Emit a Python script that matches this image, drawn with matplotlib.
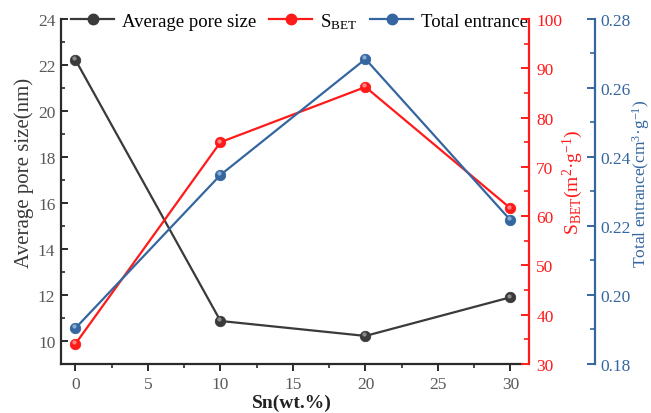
import matplotlib
matplotlib.use("Agg")
import matplotlib.pyplot as plt
from matplotlib.ticker import MultipleLocator, FormatStrFormatter
from matplotlib.transforms import offset_copy
from matplotlib.lines import Line2D

plt.rcParams['font.family'] = ['Liberation Serif', 'DejaVu Serif']
plt.rcParams['mathtext.fontset'] = 'custom'
plt.rcParams['mathtext.rm'] = 'Liberation Serif'
plt.rcParams['mathtext.it'] = 'Liberation Serif:italic'

sn = [0, 10, 20, 30]
pore_size = [22.22, 10.87, 10.22, 11.9]
s_bet = [34.1, 75.0, 86.2, 61.6]
total_entrance = [0.1904, 0.2348, 0.2684, 0.2217]

x_ticks = [0, 5, 10, 15, 20, 25, 30]

c_black = '#3a3a3a'
c_red = '#ff1a1a'
c_blue = '#3566a0'
c_grey_txt = '#595959'

fig = plt.figure(figsize=(6.51, 4.14), dpi=100)
ax = fig.add_axes([0.0937, 0.1184, 0.7082, 0.8333])
ax_r = ax.twinx()
ax_b = ax.twinx()


def sphere_line(a, x, y, color, light):
    a.plot(x, y, '-', color=color, lw=1.6, marker='o', ms=7.5,
           mfc=color, mec=color, mew=0.6, zorder=3)
    hl = offset_copy(a.transData, fig=fig, x=-1.2, y=1.2, units='points')
    a.plot(x, y, 'o', color=light, ms=3.0, mew=0, alpha=0.85,
           transform=hl, zorder=4)


sphere_line(ax, sn, pore_size, c_black, '#9a9a9a')
sphere_line(ax_r, sn, s_bet, c_red, '#ff9a9a')
sphere_line(ax_b, sn, total_entrance, c_blue, '#9ab8dc')

# Left axis
ax.set_xlim(-1.0, 30.8)
ax.set_ylim(9, 24)
ax.set_xticks(x_ticks)
ax.xaxis.set_minor_locator(MultipleLocator(2.5))
ax.yaxis.set_major_locator(MultipleLocator(2))
ax.yaxis.set_minor_locator(MultipleLocator(1))
ax.spines['top'].set_visible(False)
ax.spines['right'].set_visible(False)
for s in ('left', 'bottom'):
    ax.spines[s].set_color('#2a2a2a')
    ax.spines[s].set_linewidth(1.6)
ax.tick_params(axis='x', which='major', direction='out', length=5, width=1.4,
               colors='#2a2a2a', labelcolor=c_grey_txt, labelsize=12.5, pad=4)
ax.tick_params(axis='x', which='minor', direction='out', length=3, width=1.2,
               colors='#2a2a2a')
ax.tick_params(axis='y', which='major', direction='in', length=5, width=1.4,
               colors='#2a2a2a', labelcolor=c_grey_txt, labelsize=12.5, pad=4)
ax.tick_params(axis='y', which='minor', direction='in', length=3, width=1.2,
               colors='#2a2a2a')
ax.set_xlabel('Sn(wt.%)', fontsize=14, fontweight='bold', color='#222222', labelpad=1)
ax.set_ylabel('Average pore size(nm)', fontsize=15, color='#3a3a3a', labelpad=3)
ax.yaxis.label.set_y(0.557)

# Red axis
ax_r.set_ylim(30, 100)
ax_r.yaxis.set_major_locator(MultipleLocator(10))
ax_r.yaxis.set_minor_locator(MultipleLocator(5))
for s in ('top', 'left', 'bottom'):
    ax_r.spines[s].set_visible(False)
ax_r.spines['right'].set_position(('axes', 1.016))
ax_r.spines['right'].set_color(c_red)
ax_r.spines['right'].set_linewidth(1.6)
ax_r.tick_params(axis='y', which='major', direction='in', length=6, width=1.4,
                 colors=c_red, labelsize=12.5, pad=5)
ax_r.tick_params(axis='y', which='minor', direction='in', length=3.5, width=1.2,
                 colors=c_red)
ax_r.set_ylabel(r'S$_{\rm BET}$(m$^{2}$·g$^{-1}$)', fontsize=14, color=c_red, labelpad=-1)
ax_r.yaxis.label.set_y(0.53)

# Blue axis
ax_b.set_ylim(0.18, 0.28)
ax_b.yaxis.set_major_locator(MultipleLocator(0.02))
ax_b.yaxis.set_minor_locator(MultipleLocator(0.01))
ax_b.yaxis.set_major_formatter(FormatStrFormatter('%.2f'))
for s in ('top', 'left', 'bottom'):
    ax_b.spines[s].set_visible(False)
ax_b.spines['right'].set_position(('axes', 1.159))
ax_b.spines['right'].set_color(c_blue)
ax_b.spines['right'].set_linewidth(1.6)
ax_b.tick_params(axis='y', which='major', direction='in', length=6, width=1.4,
                 colors=c_blue, labelsize=12.5, pad=3.5)
ax_b.tick_params(axis='y', which='minor', direction='in', length=3.5, width=1.2,
                 colors=c_blue)
ax_b.set_ylabel(r'Total entrance(cm$^{3}$·g$^{-1}$)', fontsize=12.5, color=c_blue, labelpad=-0.5)
ax_b.yaxis.label.set_y(0.525)

handles = [
    Line2D([], [], color=c_black, lw=1.6, marker='o', ms=7.5),
    Line2D([], [], color=c_red, lw=1.6, marker='o', ms=7.5),
    Line2D([], [], color=c_blue, lw=1.6, marker='o', ms=7.5),
]
labels = ['Average pore size', r'S$_{\rm BET}$', 'Total entrance']
leg = ax.legend(handles, labels, loc='center left', bbox_to_anchor=(0.022, 0.995),
                ncol=3, frameon=False, fontsize=13.5, handlelength=2.3,
                handletextpad=0.4, columnspacing=0.7, borderaxespad=0,
                borderpad=0)
leg.set_zorder(10)

fig.savefig('out.png', dpi=100)
